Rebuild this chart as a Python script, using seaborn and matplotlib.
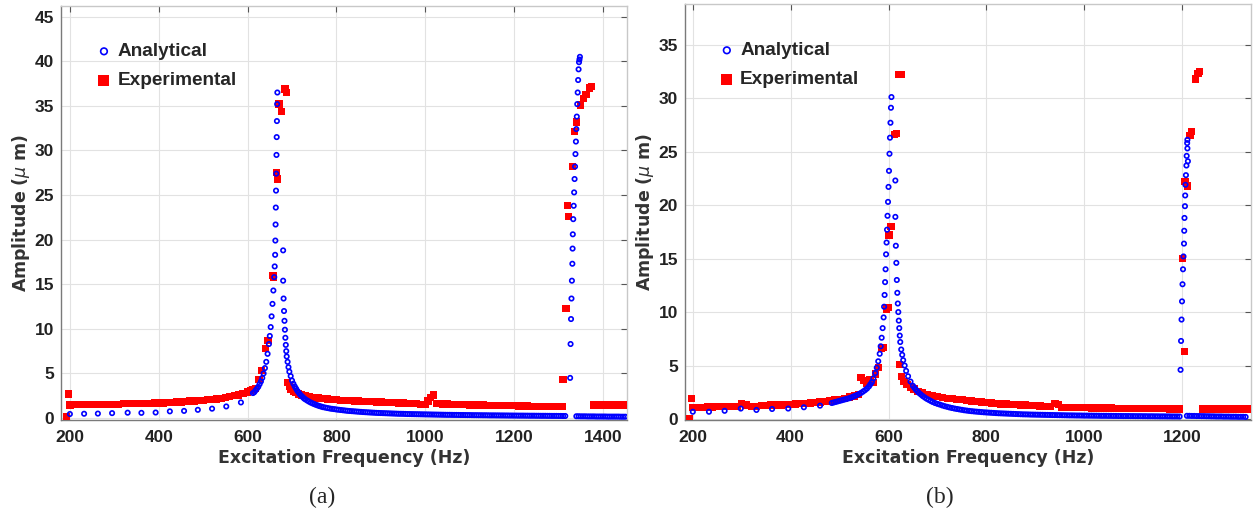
import matplotlib
matplotlib.use("Agg")
import matplotlib.pyplot as plt
import seaborn as sns
import numpy as np

# ================= Panel (a) =================
# Analytical response: frequency (Hz) and amplitude (micrometres), by segment
ana_a_low_f = [200, 232, 263, 295, 330, 361, 393, 425, 457, 488, 520, 552, 585]
ana_a_low_y = [0.45, 0.48, 0.5, 0.55, 0.6, 0.58, 0.62, 0.75, 0.8, 0.92, 1.05, 1.3, 1.75]

ana_a_rise_f = [612, 615, 618, 621, 624, 627, 630, 633, 636, 639, 642, 645, 648, 650, 652, 654, 656, 658, 660, 661,
                662, 662.5, 663, 663.5, 664, 664.5, 665, 665.5, 666, 666.5, 667]
ana_a_rise_y = [2.8, 2.9, 3.1, 3.3, 3.5, 3.8, 4.1, 4.5, 5.0, 5.6, 6.3, 7.2, 8.3, 9.2, 10.2, 11.4, 12.8, 14.3, 15.8, 17.0,
                18.3, 19.9, 21.7, 23.6, 25.5, 27.4, 29.5, 31.5, 33.3, 35.2, 36.5]

ana_a_fall_f = [680, 680, 681, 682, 683, 684, 685, 686, 687, 688, 690, 692, 694, 697,
                700, 703, 706, 709, 712, 715, 718, 721, 724, 727, 730, 734, 738, 742, 746, 750, 754, 758, 762, 766]
ana_a_fall_y = [18.8, 15.4, 13.4, 12.0, 10.9, 9.9, 9.0, 8.2, 7.5, 6.9, 6.3, 5.7, 5.2, 4.7,
                4.2, 3.85, 3.55, 3.3, 3.05, 2.85, 2.65, 2.5, 2.35, 2.2, 2.1, 1.97, 1.85, 1.74, 1.65, 1.56, 1.48, 1.41, 1.34, 1.28]

ana_a_tail_f = [770, 775, 780, 785, 790, 795, 800, 805, 810, 815,
                820, 825, 830, 835, 840, 845, 850, 855, 860, 865,
                870, 875, 880, 885, 890, 895, 900, 905, 910, 915,
                920, 925, 930, 935, 940, 945, 950, 955, 960, 965,
                970, 975, 980, 985, 990, 995, 1000, 1005, 1010, 1015,
                1020, 1025, 1030, 1035, 1040, 1045, 1050, 1055, 1060, 1065,
                1070, 1075, 1080, 1085, 1090, 1095, 1100, 1105, 1110, 1115,
                1120, 1125, 1130, 1135, 1140, 1145, 1150, 1155, 1160, 1165,
                1170, 1175, 1180, 1185, 1190, 1195, 1200, 1205, 1210, 1215,
                1220, 1225, 1230, 1235, 1240, 1245, 1250, 1255, 1260, 1265,
                1270, 1275, 1280, 1285, 1290, 1295, 1300, 1305, 1310, 1315]
ana_a_tail_y = [1.22, 1.17, 1.12, 1.07, 1.03, 1.0, 0.96, 0.93, 0.9, 0.87,
                0.84, 0.81, 0.79, 0.77, 0.75, 0.73, 0.71, 0.69, 0.67, 0.655,
                0.64, 0.625, 0.61, 0.595, 0.58, 0.57, 0.56, 0.55, 0.54, 0.53,
                0.52, 0.51, 0.5, 0.49, 0.48, 0.475, 0.47, 0.46, 0.45, 0.445,
                0.44, 0.435, 0.43, 0.425, 0.42, 0.415, 0.41, 0.405, 0.4, 0.395,
                0.39, 0.385, 0.38, 0.375, 0.37, 0.365, 0.36, 0.36, 0.355, 0.35,
                0.35, 0.345, 0.34, 0.34, 0.335, 0.33, 0.33, 0.325, 0.32, 0.32,
                0.315, 0.315, 0.31, 0.31, 0.305, 0.3, 0.3, 0.3, 0.295, 0.295,
                0.29, 0.29, 0.285, 0.285, 0.28, 0.28, 0.275, 0.275, 0.27, 0.27,
                0.27, 0.265, 0.265, 0.26, 0.26, 0.26, 0.255, 0.255, 0.25, 0.25,
                0.25, 0.245, 0.245, 0.24, 0.24, 0.24, 0.235, 0.235, 0.23, 0.23]

ana_a_peak2_f = [1326, 1327, 1328, 1329, 1330, 1331, 1331.5, 1332, 1333, 1334, 1335, 1336,
                 1337, 1338, 1339, 1340, 1341, 1342, 1343, 1344, 1345, 1346, 1347, 1348]
ana_a_peak2_y = [4.5, 8.3, 11.1, 13.4, 15.4, 17.3, 19.0, 20.6, 22.3, 23.8, 25.3, 26.8,
                 28.2, 29.6, 31.0, 32.4, 33.8, 35.2, 36.5, 37.9, 39.1, 39.9, 40.2, 40.5]

ana_a_post_f = [1340, 1345, 1350, 1355, 1360, 1365, 1370, 1375, 1380, 1385, 1390, 1395,
                1400, 1405, 1410, 1415, 1420, 1425, 1430, 1435, 1440, 1445, 1450]
ana_a_post_y = [0.2, 0.2, 0.19, 0.19, 0.19, 0.18, 0.18, 0.18, 0.18, 0.17, 0.17, 0.17,
                0.17, 0.17, 0.16, 0.16, 0.16, 0.16, 0.16, 0.16, 0.15, 0.15, 0.15]

# Experimental measurements, panel (a)
exp_a_f = [
    193, 197,
    200, 210, 220, 230, 240, 250, 260, 270, 280, 290, 300, 310, 320, 330, 340, 350, 360, 370, 380, 390,
    400, 410, 420, 430, 440, 450, 460, 470, 480, 490, 500, 510, 520, 530, 540, 550, 560, 570, 580, 590,
    600, 606, 612, 618,
    626, 632, 640, 646, 657, 659, 665, 668, 671, 676, 684, 688,
    690, 694, 698, 703, 709, 715, 722, 730, 740, 750, 760, 770, 780, 790, 800, 810, 820, 830, 840, 850,
    860, 870, 880, 890, 900, 910, 920, 930, 940, 950, 960, 970, 980, 990, 1000, 1006, 1012, 1018, 1025,
    1030, 1040, 1050, 1060, 1070, 1080, 1090, 1100, 1110, 1120, 1130, 1140, 1150, 1160, 1170, 1180,
    1190, 1200, 1210, 1220, 1230, 1240, 1250, 1260, 1270, 1280, 1290, 1300, 1308,
    1310, 1317, 1320, 1323, 1332, 1336, 1340, 1350, 1356, 1362, 1370, 1374,
    1378, 1388, 1398, 1408, 1418, 1428, 1438, 1448, 1454,
]
exp_a_y = [
    0.1, 2.7,
    1.45, 1.5, 1.5, 1.5, 1.5, 1.5, 1.5, 1.55, 1.5, 1.55, 1.55, 1.55, 1.6, 1.65, 1.6, 1.6, 1.65, 1.6, 1.65, 1.7,
    1.7, 1.7, 1.75, 1.75, 1.8, 1.8, 1.85, 1.9, 1.9, 1.95, 2.0, 2.05, 2.1, 2.15, 2.2, 2.3, 2.4, 2.5, 2.6, 2.75,
    2.9, 3.1, 3.2, 3.3,
    4.3, 5.3, 7.8, 8.7, 16.0, 15.8, 27.5, 26.8, 35.2, 34.4, 36.9, 36.5,
    4.0, 3.5, 3.2, 3.0, 2.85, 2.7, 2.6, 2.5, 2.4, 2.3, 2.25, 2.2, 2.15, 2.1, 2.05, 2.0, 1.98, 1.95, 1.92, 1.9,
    1.88, 1.85, 1.83, 1.8, 1.78, 1.76, 1.74, 1.72, 1.7, 1.68, 1.66, 1.64, 1.6, 1.5, 1.55, 1.9, 2.3, 2.6, 1.6,
    1.6, 1.58, 1.56, 1.55, 1.54, 1.52, 1.5, 1.48, 1.47, 1.46, 1.45, 1.44, 1.43, 1.42, 1.41, 1.4,
    1.38, 1.37, 1.36, 1.35, 1.34, 1.33, 1.32, 1.3, 1.3, 1.29, 1.28, 1.27, 1.26,
    4.3, 12.3, 23.8, 22.6, 28.2, 32.1, 33.2, 35.1, 35.8, 36.3, 37.0, 37.2,
    1.45, 1.45, 1.45, 1.45, 1.45, 1.45, 1.45, 1.45, 1.45,
]

# ================= Panel (b) =================
ana_b_low_f = [200, 233, 265, 298, 330, 362, 395, 427, 460]
ana_b_low_y = [0.68, 0.68, 0.77, 0.98, 0.85, 0.94, 0.98, 1.1, 1.25]

ana_b_rise_f = [484, 488, 492, 496, 500, 504, 508, 512, 516, 520, 524, 528, 532, 536, 540, 544, 548, 552, 556, 560,
                563, 566, 569, 573, 576, 579, 582, 584, 586, 588,
                590, 591, 592, 593, 594, 595, 596, 597, 598, 599, 600, 601, 602, 603, 604, 605, 606]
ana_b_rise_y = [1.5, 1.55, 1.6, 1.65, 1.7, 1.75, 1.8, 1.85, 1.9, 1.95, 2.02, 2.1, 2.17, 2.25, 2.35, 2.45, 2.57, 2.7, 2.85, 3.05,
                3.25, 3.45, 3.8, 4.3, 4.8, 5.4, 6.1, 6.8, 7.6, 8.5,
                9.5, 10.5, 11.6, 12.8, 14.0, 15.4, 16.5, 17.7, 19.0, 20.3, 21.7, 23.2, 24.8, 26.3, 27.7, 29.1, 30.1]

ana_b_fall_f = [614, 614, 615, 616, 617, 618, 619, 620, 621, 622, 623, 624, 626, 628, 630, 633, 636, 640, 645, 650,
                653, 656, 659, 662, 666, 670, 674, 678, 682, 686, 690, 695, 700, 705, 710, 715, 720, 725, 730, 735,
                740, 745, 750, 755, 760]
ana_b_fall_y = [22.3, 18.9, 16.2, 14.6, 13.0, 11.8, 10.8, 10.0, 9.2, 8.5, 7.8, 7.2, 6.5, 6.0, 5.5, 5.0, 4.5, 4.0, 3.5, 3.1,
                2.92, 2.75, 2.6, 2.45, 2.3, 2.15, 2.02, 1.9, 1.8, 1.7, 1.6, 1.5, 1.42, 1.35, 1.27, 1.2, 1.14, 1.08, 1.03, 0.98,
                0.94, 0.9, 0.86, 0.82, 0.79]

ana_b_tail_f = [765, 770, 775, 780, 785, 790, 795, 800, 805, 810,
                815, 820, 825, 830, 835, 840, 845, 850, 855, 860,
                865, 870, 875, 880, 885, 890, 895, 900, 905, 910,
                915, 920, 925, 930, 935, 940, 945, 950, 955, 960,
                965, 970, 975, 980, 985, 990, 995, 1000, 1005, 1010,
                1015, 1020, 1025, 1030, 1035, 1040, 1045, 1050, 1055, 1060,
                1065, 1070, 1075, 1080, 1085, 1090, 1095, 1100, 1105, 1110,
                1115, 1120, 1125, 1130, 1135, 1140, 1145, 1150, 1155, 1160,
                1165, 1170, 1175, 1180, 1185, 1190, 1195]
ana_b_tail_y = [0.76, 0.735, 0.71, 0.69, 0.67, 0.65, 0.63, 0.615, 0.6, 0.585,
                0.57, 0.555, 0.54, 0.53, 0.52, 0.51, 0.5, 0.49, 0.48, 0.47,
                0.46, 0.45, 0.44, 0.435, 0.43, 0.42, 0.415, 0.41, 0.405, 0.4,
                0.395, 0.39, 0.385, 0.38, 0.375, 0.37, 0.365, 0.36, 0.355, 0.35,
                0.345, 0.34, 0.34, 0.335, 0.33, 0.33, 0.325, 0.32, 0.32, 0.315,
                0.315, 0.31, 0.31, 0.305, 0.3, 0.3, 0.3, 0.295, 0.295, 0.29,
                0.29, 0.285, 0.285, 0.28, 0.28, 0.28, 0.275, 0.275, 0.27, 0.27,
                0.27, 0.265, 0.265, 0.26, 0.26, 0.26, 0.255, 0.255, 0.25, 0.25,
                0.25, 0.245, 0.245, 0.24, 0.24, 0.24, 0.235]

ana_b_peak2_f = [1197, 1198, 1199, 1200, 1201, 1202, 1203, 1204, 1204.5, 1205, 1206, 1206.5, 1207, 1208, 1209, 1212,
                 1209.5, 1211, 1210.5, 1211]
ana_b_peak2_y = [4.6, 7.3, 9.3, 11.0, 12.6, 14.0, 15.2, 16.4, 17.6, 18.8, 19.9, 20.9, 21.9, 22.8, 23.7, 24.1,
                 24.6, 25.3, 25.8, 26.1]

ana_b_post_f = [1210, 1215, 1220, 1225, 1230, 1235, 1240, 1245, 1250, 1255, 1260, 1265, 1270,
                1275, 1280, 1285, 1290, 1295, 1300, 1305, 1310, 1315, 1320, 1325, 1330]
ana_b_post_y = [0.3, 0.3, 0.29, 0.29, 0.28, 0.28, 0.27, 0.27, 0.26, 0.26, 0.25, 0.25, 0.24,
                0.24, 0.24, 0.23, 0.23, 0.23, 0.22, 0.22, 0.22, 0.21, 0.21, 0.21, 0.2]

# Experimental measurements, panel (b)
exp_b_f = [
    193, 197,
    200, 210, 220, 230, 240, 250, 260, 270, 280, 290, 300, 310, 320, 330, 340, 350, 360, 370, 380, 390,
    400, 410, 420, 430, 440, 450, 460, 470, 480, 490, 500, 510, 520, 530, 538,
    544, 550, 556, 562, 568, 574, 580, 586, 590, 596, 599, 601, 605, 612, 616, 621, 626,
    622, 627, 632, 638, 645, 652, 660, 670, 680, 690, 700, 710, 720, 730, 740, 750, 760, 770, 780, 790,
    800, 810, 820, 830, 840, 850, 860, 870, 880, 890, 900, 910, 920, 930, 940, 948, 955, 965, 975, 985,
    995, 1005, 1015, 1025, 1035, 1045, 1055, 1065, 1075, 1085, 1095, 1105, 1115, 1125, 1135, 1145,
    1155, 1165, 1175, 1185, 1195,
    1201, 1205, 1206, 1211, 1216, 1219, 1228, 1233, 1236,
    1242, 1252, 1262, 1272, 1282, 1292, 1302, 1312, 1322, 1332, 1340,
]
exp_b_y = [
    0.05, 1.9,
    1.1, 1.1, 1.1, 1.12, 1.12, 1.15, 1.15, 1.15, 1.2, 1.2, 1.45, 1.3, 1.2, 1.2, 1.25, 1.25, 1.3, 1.3, 1.3, 1.35,
    1.35, 1.4, 1.45, 1.45, 1.5, 1.55, 1.6, 1.65, 1.7, 1.8, 1.85, 1.95, 2.05, 2.15, 2.3,
    3.9, 3.6, 3.3, 3.7, 3.4, 4.2, 4.8, 6.6, 6.7, 10.3, 10.4, 17.2, 18.0, 26.6, 26.7, 32.2, 32.2,
    5.1, 4.0, 3.5, 3.2, 3.0, 2.8, 2.6, 2.45, 2.3, 2.2, 2.1, 2.0, 1.95, 1.9, 1.85, 1.8, 1.75, 1.7, 1.65, 1.6,
    1.55, 1.5, 1.45, 1.42, 1.4, 1.37, 1.34, 1.32, 1.3, 1.28, 1.25, 1.23, 1.2, 1.2, 1.45, 1.35, 1.1, 1.1, 1.08, 1.07,
    1.06, 1.05, 1.04, 1.04, 1.03, 1.02, 1.02, 1.01, 1.0, 1.0, 0.99, 0.99, 0.98, 0.98, 0.97, 0.97,
    0.96, 0.96, 0.95, 0.95, 0.95,
    15.0, 6.3, 22.2, 21.8, 26.5, 26.9, 31.8, 32.3, 32.5,
    0.95, 0.95, 0.95, 0.95, 0.95, 0.95, 0.95, 0.95, 0.95, 0.95, 0.95,
]

series_labels = ["Analytical", "Experimental"]
x_label = "Excitation Frequency (Hz)"
y_label = r"Amplitude ($\mu$ m)"
captions = ["(a)", "(b)"]

ana_a_f = ana_a_low_f + ana_a_rise_f + ana_a_fall_f + ana_a_tail_f + ana_a_peak2_f + ana_a_post_f
ana_a_y = ana_a_low_y + ana_a_rise_y + ana_a_fall_y + ana_a_tail_y + ana_a_peak2_y + ana_a_post_y
ana_b_f = ana_b_low_f + ana_b_rise_f + ana_b_fall_f + ana_b_tail_f + ana_b_peak2_f + ana_b_post_f
ana_b_y = ana_b_low_y + ana_b_rise_y + ana_b_fall_y + ana_b_tail_y + ana_b_peak2_y + ana_b_post_y

sns.set_theme(style="white")
plt.rcParams["font.family"] = ["Liberation Sans", "DejaVu Sans"]
plt.rcParams["mathtext.fontset"] = "dejavusans"

W, H = 1258, 522
fig = plt.figure(figsize=(W / 100, H / 100), dpi=100)
ax_a = fig.add_axes([61 / W, 1 - 420 / H, 566 / W, 414 / H])
ax_b = fig.add_axes([685 / W, 1 - 420 / H, 566 / W, 416 / H])

panels = [
    (ax_a, ana_a_f, ana_a_y, exp_a_f, exp_a_y, (180, 1454), (-0.22, 46.2),
     np.arange(200, 1401, 200), np.arange(0, 46, 5), (0.049, 0.929)),
    (ax_b, ana_b_f, ana_b_y, exp_b_f, exp_b_y, (184, 1341), (-0.09, 38.8),
     np.arange(200, 1201, 200), np.arange(0, 36, 5), (0.047, 0.927)),
]

label_font = {"family": "DejaVu Sans", "weight": "bold", "size": 12.5}

for ax, af, ay, ef, ey, xl, yl, xt, yt, leg_pos in panels:
    sns.scatterplot(x=ef, y=ey, ax=ax, marker="s", s=28, color="#ff0000",
                    edgecolor="none", linewidth=0, label=series_labels[1], zorder=3)
    sns.scatterplot(x=af, y=ay, ax=ax, marker="o", s=10, facecolors="none",
                    edgecolors="#0000ff", linewidth=1.2, label=series_labels[0], zorder=4)
    ax.set_xlim(*xl)
    ax.set_ylim(*yl)
    ax.set_xticks(xt)
    ax.set_yticks(yt)
    ax.grid(True, color="#e2e2e2", linewidth=0.8)
    ax.set_axisbelow(True)
    for side in ["left", "bottom"]:
        ax.spines[side].set_color("#7a7a7a")
    for side in ["top", "right"]:
        ax.spines[side].set_color("#c8c8c8")
    for sp in ax.spines.values():
        sp.set_linewidth(1.0)
    ax.tick_params(direction="in", length=4, width=0.8, color="#555555",
                   top=True, right=True, labelsize=12.5, labelcolor="#222222")
    ax.tick_params(axis="x", pad=7)
    ax.tick_params(axis="y", pad=5)
    for lab in ax.get_xticklabels() + ax.get_yticklabels():
        lab.set_fontweight("bold")
    ax.set_xlabel(x_label, fontdict=label_font, color="#333333", labelpad=3)
    ax.set_ylabel(y_label, fontdict=label_font, color="#333333", labelpad=2)
    handles, labels = ax.get_legend_handles_labels()
    order = [labels.index(series_labels[0]), labels.index(series_labels[1])]
    ax.legend([handles[i] for i in order], [labels[i] for i in order],
              loc="upper left", bbox_to_anchor=leg_pos, frameon=False,
              prop={"weight": "bold", "size": 13.7}, handlelength=0.8, handletextpad=0.3,
              labelspacing=0.62, markerscale=1.5, borderaxespad=0)

fig.text(322 / W, 1 - 497 / H, captions[0], ha="center", va="center",
         fontsize=17, family="Liberation Serif")
fig.text(940 / W, 1 - 497 / H, captions[1], ha="center", va="center",
         fontsize=17, family="Liberation Serif")

fig.savefig("out.png", dpi=100, facecolor="white")
